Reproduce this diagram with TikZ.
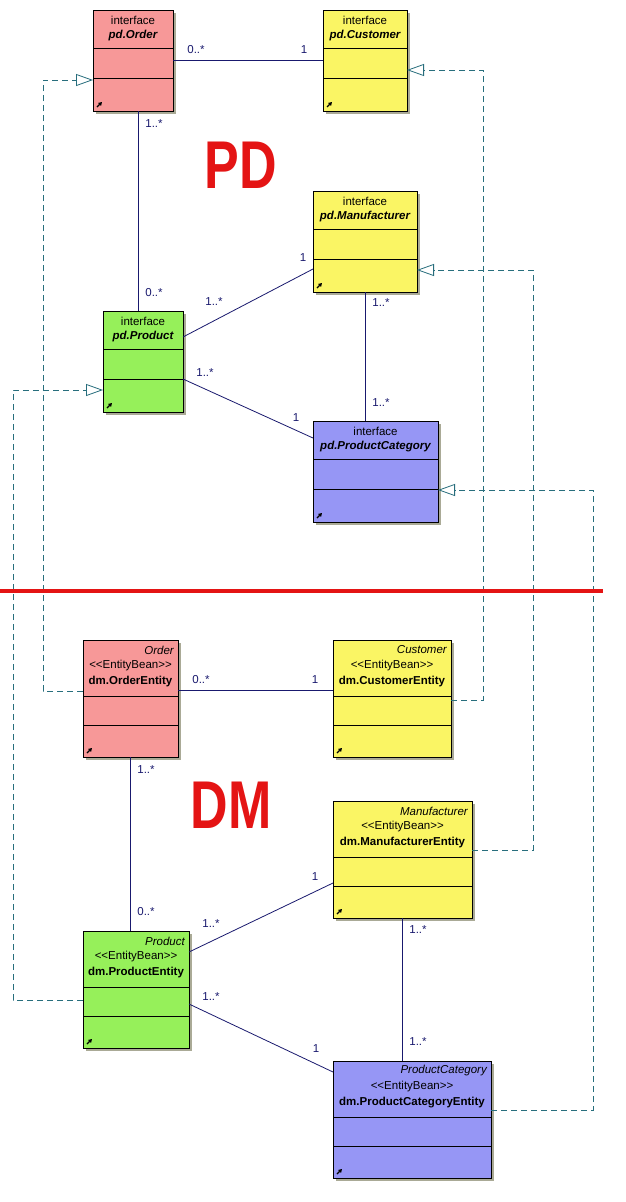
\documentclass[tikz,border=0pt]{standalone}
\usepackage{fontspec}
\setmainfont{Liberation Sans}
\usetikzlibrary{arrows.meta,calc}
\definecolor{pinkc}{RGB}{247,152,152}
\definecolor{yelc}{RGB}{250,245,100}
\definecolor{grnc}{RGB}{150,240,90}
\definecolor{vioc}{RGB}{150,150,245}
\definecolor{navyc}{RGB}{25,25,110}
\definecolor{tealc}{RGB}{40,110,125}
\definecolor{shadc}{RGB}{170,170,150}
\definecolor{redc}{RGB}{228,20,20}
\tikzset{
  umlbox/.style={draw=black, line width=0.9pt, rectangle, inner sep=0pt, outer sep=0pt, anchor=north west},
  divider/.style={draw=black, line width=0.9pt},
  stereo/.style={font=\fontsize{11.5}{13}\selectfont, inner sep=0pt},
  pdname/.style={font=\fontsize{11.5}{13}\selectfont\bfseries\itshape, inner sep=0pt},
  dmname/.style={font=\fontsize{11.5}{13}\selectfont\bfseries, inner sep=0pt},
  aliastxt/.style={font=\fontsize{11.5}{13}\selectfont\itshape, inner sep=0pt, anchor=east},
  assoc/.style={draw=navyc, line width=0.8pt},
  mult/.style={font=\fontsize{11.5}{13}\selectfont, text=navyc, inner sep=0pt},
  realize/.style={draw=tealc, line width=0.8pt, dash pattern=on 6pt off 4pt,
     -{Triangle[open, length=17pt, width=12pt, line width=0.8pt]}},
  iconarrow/.style={line width=1.3pt, -{Triangle[length=3.5pt,width=4pt]}},
  bigtxt/.style={font=\fontsize{52}{60}\selectfont\bfseries, text=redc, inner sep=0pt},
  redline/.style={draw=redc, line width=4pt},
}
\newcommand{\pdbox}[6]{%
  \fill[shadc] (#2+3,#3+3) rectangle (#4+3,#3+104);
  \node[umlbox, fill=#5, minimum width={(#4-#2)*1pt}, minimum height=101pt] (#1) at (#2,#3) {};
  \draw[divider] (#2,#3+38.5) -- (#4,#3+38.5);
  \draw[divider] (#2,#3+68) -- (#4,#3+68);
  \node[stereo] (#1-st) at ({(#2+#4)/2},#3+10) {interface};
  \node[pdname] (#1-nm) at ({(#2+#4)/2},#3+26) {#6};
  \draw[iconarrow] (#2+4,#3+97) -- (#2+9,#3+92);
}
\newcommand{\dmbox}[7]{%
  \fill[shadc] (#2+3,#3+3) rectangle (#4+3,#3+120);
  \node[umlbox, fill=#5, minimum width={(#4-#2)*1pt}, minimum height=117pt] (#1) at (#2,#3) {};
  \draw[divider] (#2,#3+56) -- (#4,#3+56);
  \draw[divider] (#2,#3+85) -- (#4,#3+85);
  \node[aliastxt] (#1-al) at (#4-4,#3+10) {#6};
  \node[stereo] (#1-st) at ({(#2+#4)/2},#3+26) {{<}{<}EntityBean{>}{>}};
  \node[dmname] (#1-nm) at ({(#2+#4)/2},#3+42) {#7};
  \draw[iconarrow] (#2+4,#3+113) -- (#2+9,#3+108);
}
\begin{document}
\begin{tikzpicture}[x=1pt,y=-1pt]
\fill[white] (0,0) rectangle (625,1202);
\useasboundingbox (0,0) rectangle (625,1202);

% PD boxes
\pdbox{order}{93}{10}{173}{pinkc}{pd.Order}
\pdbox{customer}{323}{10}{407}{yelc}{pd.Customer}
\pdbox{manuf}{313}{191}{417}{yelc}{pd.Manufacturer}
\pdbox{product}{103}{311}{183}{grnc}{pd.Product}
\pdbox{pcat}{313}{421}{438}{vioc}{pd.ProductCategory}

% DM boxes
\dmbox{oe}{83}{640}{178}{pinkc}{Order}{dm.OrderEntity}
\dmbox{ce}{333}{640}{451}{yelc}{Customer}{dm.CustomerEntity}
\dmbox{me}{333}{801}{472}{yelc}{Manufacturer}{dm.ManufacturerEntity}
\dmbox{pe}{83}{931}{189}{grnc}{Product}{dm.ProductEntity}
\dmbox{pce}{333}{1061}{491}{vioc}{ProductCategory}{dm.ProductCategoryEntity}

% associations PD
\draw[assoc] ([shift={(0,50)}]order.north east) -- ([shift={(0,50)}]customer.north west);
\draw[assoc] ([shift={(45,0)}]order.south west) -- ([shift={(35,0)}]product.north west);
\draw[assoc] ([shift={(0,26)}]product.north east) -- ([shift={(0,78)}]manuf.north west);
\draw[assoc] ([shift={(0,68)}]product.north east) -- ([shift={(0,17)}]pcat.north west);
\draw[assoc] ([shift={(52,0)}]manuf.south west) -- ([shift={(52,0)}]pcat.north west);

% associations DM
\draw[assoc] ([shift={(0,50)}]oe.north east) -- ([shift={(0,50)}]ce.north west);
\draw[assoc] ([shift={(47,0)}]oe.south west) -- ([shift={(47,0)}]pe.north west);
\draw[assoc] ([shift={(0,21)}]pe.north east) -- ([shift={(0,82)}]me.north west);
\draw[assoc] ([shift={(0,73)}]pe.north east) -- ([shift={(0,11)}]pce.north west);
\draw[assoc] ([shift={(69,0)}]me.south west) -- ([shift={(69,0)}]pce.north west);

% realizations
\draw[realize] ([shift={(0,51)}]oe.north west) -- ++(-40,0) |- ([shift={(0,70)}]order.north west);
\draw[realize] ([shift={(0,69)}]pe.north west) -- ++(-70,0) |- ([shift={(0,79)}]product.north west);
\draw[realize] ([shift={(0,60)}]ce.north east) -- ++(32,0) |- ([shift={(0,60)}]customer.north east);
\draw[realize] ([shift={(0,49)}]me.north east) -- ++(61,0) |- ([shift={(0,79)}]manuf.north east);
\draw[realize] ([shift={(0,49)}]pce.north east) -- ++(102,0) |- ([shift={(0,69)}]pcat.north east);

% multiplicities
\node[mult] (m1) at (196,50) {0..*};
\node[mult] (m2) at (304,50) {1};
\node[mult] (m3) at (154,124) {1..*};
\node[mult] (m4) at (154,293) {0..*};
\node[mult] (m5) at (214,302) {1..*};
\node[mult] (m6) at (303,258) {1};
\node[mult] (m7) at (205,373) {1..*};
\node[mult] (m8) at (296,418) {1};
\node[mult] (m9) at (381,303) {1..*};
\node[mult] (m10) at (381,403) {1..*};
\node[mult] (m11) at (201,680) {0..*};
\node[mult] (m12) at (315,680) {1};
\node[mult] (m13) at (146,770) {1..*};
\node[mult] (m14) at (146,912) {0..*};
\node[mult] (m15) at (211,924) {1..*};
\node[mult] (m16) at (315,877) {1};
\node[mult] (m17) at (211,997) {1..*};
\node[mult] (m18) at (316,1049) {1};
\node[mult] (m19) at (418,930) {1..*};
\node[mult] (m20) at (418,1042) {1..*};

% separator and section labels
\draw[redline] (0,591) -- (603,591);
\node[bigtxt] (pdlabel) at (241,165) {\scalebox{1}[1.3]{PD}};
\node[bigtxt] (dmlabel) at (231,805) {\scalebox{1}[1.3]{DM}};
\end{tikzpicture}
\end{document}
